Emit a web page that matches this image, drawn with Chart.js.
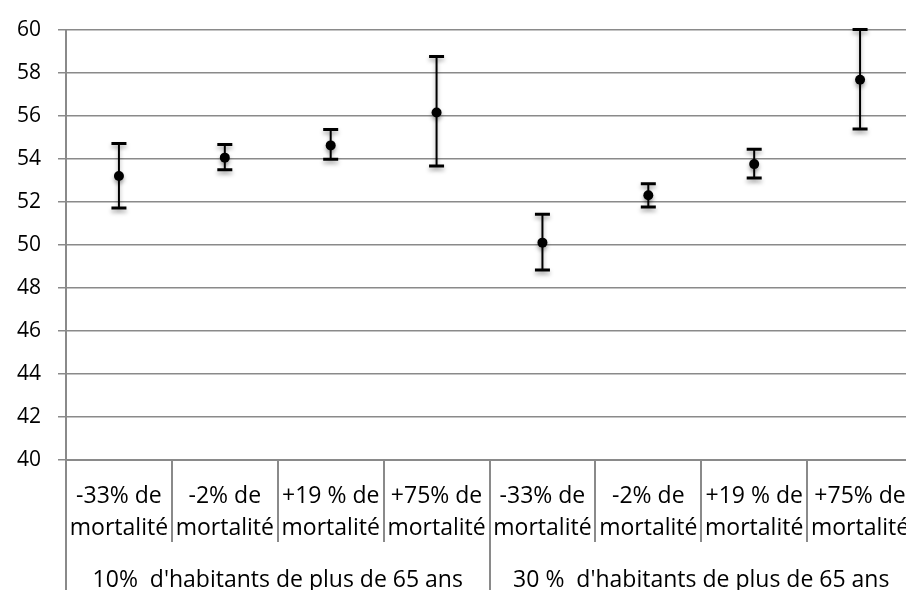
<!DOCTYPE html>
<html>
<head>
<meta charset="utf-8">
<script src="https://cdn.jsdelivr.net/npm/chart.js@4/dist/chart.umd.min.js"></script>
<style>
  html, body { margin: 0; padding: 0; overflow: hidden; background: #fff; }
  #frame { width: 906px; height: 590px; overflow: hidden; position: relative; }
  #wrap { width: 918px; height: 590px; position: absolute; left: 0; top: 0; }
</style>
</head>
<body>
<div id="frame"><div id="wrap"><canvas id="chart"></canvas></div></div>
<script>
const categories = [
  ["-33% de", "mortalité"], ["-2% de", "mortalité"], ["+19 % de", "mortalité"], ["+75% de", "mortalité"],
  ["-33% de", "mortalité"], ["-2% de", "mortalité"], ["+19 % de", "mortalité"], ["+75% de", "mortalité"],
];
const groups = ["10%  d'habitants de plus de 65 ans", "30 %  d'habitants de plus de 65 ans"];
const groupSize = 4;

const means = [53.2, 54.05, 54.62, 56.15, 50.1, 52.3, 53.75, 57.67];
const upper = [54.71, 54.66, 55.36, 58.75, 51.42, 52.84, 54.44, 60.0];
const lower = [51.71, 53.49, 53.98, 53.66, 48.83, 51.76, 53.1, 55.38];

const yMin = 40;
const yMax = 60;
const yStep = 2;

const gridColor = "#8a8a8a";
const font = "'Open Sans', sans-serif";

// group boundaries and centres on an index scale running -0.5 .. n-0.5
const groupBounds = [-0.5, ...groups.map((g, i) => (i + 1) * groupSize - 0.5)];
const groupMids = groups.map((g, i) => i * groupSize + (groupSize - 1) / 2);

const shadow = (ctx) => {
  ctx.shadowColor = "rgba(0,0,0,0.35)";
  ctx.shadowBlur = 4;
  ctx.shadowOffsetY = 3;
};

const errorBars = {
  id: "errorBars",
  beforeDatasetsDraw(chart) {
    const { ctx, scales: { x, y } } = chart;
    ctx.save();
    shadow(ctx);
    ctx.strokeStyle = "#000";
    means.forEach((m, i) => {
      const px = x.getPixelForValue(i);
      const top = y.getPixelForValue(upper[i]);
      const bot = y.getPixelForValue(lower[i]);
      ctx.lineWidth = 2;
      ctx.beginPath();
      ctx.moveTo(px, top);
      ctx.lineTo(px, bot);
      ctx.stroke();
      ctx.lineWidth = 3;
      ctx.beginPath();
      ctx.moveTo(px - 7.5, top);
      ctx.lineTo(px + 7.5, top);
      ctx.moveTo(px - 7.5, bot);
      ctx.lineTo(px + 7.5, bot);
      ctx.stroke();
    });
    ctx.restore();
  },
  beforeDatasetDraw(chart) {
    chart.ctx.save();
    shadow(chart.ctx);
  },
  afterDatasetDraw(chart) {
    chart.ctx.restore();
  },
};

new Chart(document.getElementById("chart"), {
  type: "line",
  data: {
    labels: categories,
    datasets: [
      {
        data: means,
        showLine: false,
        pointRadius: 5,
        pointBackgroundColor: "#000",
        pointBorderColor: "#000",
        pointBorderWidth: 0,
      },
    ],
  },
  options: {
    responsive: true,
    maintainAspectRatio: false,
    animation: false,
    layout: { padding: { top: 26.4, right: 0, bottom: 0, left: 0 } },
    plugins: { legend: { display: false }, tooltip: { enabled: false } },
    scales: {
      x: {
        type: "category",
        offset: true,
        grid: { offset: true, drawOnChartArea: false, tickLength: 82, color: gridColor, lineWidth: 2 },
        border: { color: gridColor, width: 2 },
        ticks: {
          autoSkip: false,
          maxRotation: 0,
          padding: -62,
          color: "#000",
          font: { family: font, size: 23, lineHeight: 1.4 },
        },
        afterFit: (s) => { s.height = 82; },
      },
      x2: {
        type: "linear",
        position: "bottom",
        min: -0.5,
        max: categories.length - 0.5,
        afterBuildTicks: (s) => {
          s.ticks = [...groupBounds, ...groupMids].sort((a, b) => a - b).map((v) => ({ value: v }));
        },
        grid: {
          drawOnChartArea: false,
          tickLength: 48,
          lineWidth: 2,
          color: (c) => (c.tick && groupMids.includes(c.tick.value) ? "rgba(0,0,0,0)" : gridColor),
        },
        border: { display: false },
        ticks: {
          autoSkip: false,
          maxRotation: 0,
          padding: -23,
          color: "#000",
          font: { family: font, size: 23, lineHeight: 1.2 },
          callback: (v) => {
            const gi = groupMids.indexOf(v);
            return gi >= 0 ? groups[gi] : "";
          },
        },
        afterFit: (s) => { s.height = 48; },
      },
      y: {
        min: yMin,
        max: yMax,
        ticks: {
          stepSize: yStep,
          padding: 17,
          color: "#000",
          font: { family: font, size: 21 },
        },
        grid: { tickLength: 8, color: gridColor, lineWidth: 1.5 },
        border: { color: gridColor, width: 2 },
        afterFit: (s) => { s.width = 66; },
      },
    },
  },
  plugins: [errorBars],
});
</script>
</body>
</html>
